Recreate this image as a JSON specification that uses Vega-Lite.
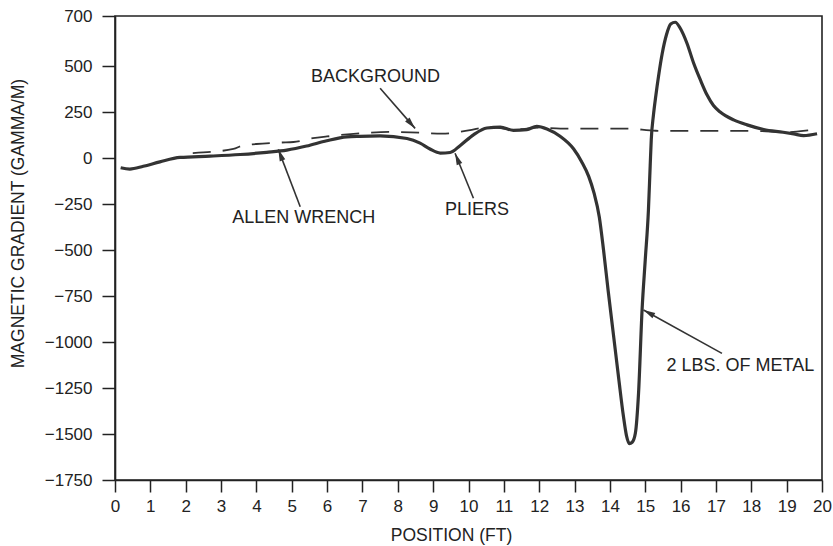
{
  "$schema": "https://vega.github.io/schema/vega-lite/v6.json",
  "autosize": "none",
  "width": 707,
  "height": 464,
  "padding": {"left": 115, "top": 16, "right": 11, "bottom": 66},
  "background": "white",
  "config": {
    "font": "Liberation Sans",
    "view": {"stroke": "#222", "strokeWidth": 1.6},
    "axis": {
      "domainColor": "#222", "domainWidth": 1.6, "tickColor": "#222", "tickWidth": 1.5,
      "labelColor": "#222", "titleColor": "#222", "labelFont": "Liberation Sans", "titleFont": "Liberation Sans",
      "labelFontSize": 17, "titleFontSize": 17.5, "titleFontWeight": "normal", "grid": false
    }
  },
  "datasets": {
    "curve": [
      {"x": 0.16, "y": -53}, {"x": 0.42, "y": -60}, {"x": 0.8, "y": -45}, {"x": 1.27, "y": -21}, {"x": 1.84, "y": 3},
      {"x": 2.69, "y": 10}, {"x": 3.54, "y": 19}, {"x": 4.29, "y": 31}, {"x": 4.86, "y": 43}, {"x": 5.42, "y": 65},
      {"x": 5.99, "y": 94}, {"x": 6.56, "y": 115}, {"x": 6.93, "y": 118}, {"x": 7.5, "y": 120}, {"x": 8.26, "y": 106},
      {"x": 8.63, "y": 81}, {"x": 8.91, "y": 49}, {"x": 9.2, "y": 27}, {"x": 9.48, "y": 30}, {"x": 9.76, "y": 67},
      {"x": 10.14, "y": 126}, {"x": 10.52, "y": 163}, {"x": 10.9, "y": 168}, {"x": 11.27, "y": 150}, {"x": 11.65, "y": 154},
      {"x": 11.93, "y": 172}, {"x": 12.22, "y": 158}, {"x": 12.59, "y": 118}, {"x": 12.97, "y": 50}, {"x": 13.2, "y": -20},
      {"x": 13.4, "y": -100}, {"x": 13.55, "y": -190}, {"x": 13.7, "y": -320}, {"x": 13.82, "y": -500}, {"x": 13.95, "y": -720},
      {"x": 14.1, "y": -960}, {"x": 14.25, "y": -1200}, {"x": 14.38, "y": -1400}, {"x": 14.47, "y": -1510}, {"x": 14.55, "y": -1552},
      {"x": 14.63, "y": -1545}, {"x": 14.72, "y": -1496}, {"x": 14.81, "y": -1279}, {"x": 14.91, "y": -826}, {"x": 15.0, "y": -554},
      {"x": 15.09, "y": -283}, {"x": 15.14, "y": -40}, {"x": 15.17, "y": 100}, {"x": 15.23, "y": 230}, {"x": 15.3, "y": 340},
      {"x": 15.38, "y": 450}, {"x": 15.48, "y": 550}, {"x": 15.6, "y": 625}, {"x": 15.72, "y": 668},
      {"x": 15.85, "y": 675}, {"x": 15.99, "y": 651}, {"x": 16.18, "y": 591}, {"x": 16.37, "y": 511}, {"x": 16.56, "y": 424},
      {"x": 16.75, "y": 342}, {"x": 16.93, "y": 285}, {"x": 17.12, "y": 250}, {"x": 17.5, "y": 207}, {"x": 17.88, "y": 180},
      {"x": 18.35, "y": 155}, {"x": 18.9, "y": 140}, {"x": 19.2, "y": 131}, {"x": 19.48, "y": 122}, {"x": 19.86, "y": 132}
    ],
    "background": [
      {"x": 2.2, "y": 27}, {"x": 3.35, "y": 49}, {"x": 3.6, "y": 67}, {"x": 4.0, "y": 76}, {"x": 4.7, "y": 84},
      {"x": 5.05, "y": 87}, {"x": 5.6, "y": 108}, {"x": 6.0, "y": 117}, {"x": 7.0, "y": 135}, {"x": 7.75, "y": 142},
      {"x": 8.6, "y": 138}, {"x": 9.25, "y": 132}, {"x": 10.0, "y": 150}, {"x": 10.6, "y": 168}, {"x": 11.3, "y": 155},
      {"x": 12.0, "y": 165}, {"x": 12.6, "y": 160}, {"x": 14.5, "y": 160}, {"x": 15.3, "y": 148}, {"x": 16.8, "y": 147},
      {"x": 18.1, "y": 147}, {"x": 19.0, "y": 140}, {"x": 19.6, "y": 150}, {"x": 19.9, "y": 158}
    ],
    "labels": [
      {"x": 7.37, "y": 442, "text": "BACKGROUND"},
      {"x": 5.34, "y": -328, "text": "ALLEN WRENCH"},
      {"x": 10.24, "y": -283, "text": "PLIERS"},
      {"x": 17.69, "y": -1129, "text": "2 LBS. OF METAL"}
    ],
    "arrows": [
      {"name": "background", "x": 7.5, "y": 379, "x2": 8.49, "y2": 161},
      {"name": "allen", "x": 5.24, "y": -265, "x2": 4.62, "y2": 47},
      {"name": "pliers", "x": 10.14, "y": -219, "x2": 9.62, "y2": 26},
      {"name": "metal", "x": 17.17, "y": -1062, "x2": 14.95, "y2": -826}
    ]
  },
  "encoding": {
    "x": {
      "field": "x", "type": "quantitative", "title": "POSITION (FT)",
      "scale": {"domain": [0, 20], "nice": false, "zero": false},
      "axis": {"values": [0,1,2,3,4,5,6,7,8,9,10,11,12,13,14,15,16,17,18,19,20], "tickSize": 12, "labelPadding": 6,
               "titleX": 336, "titleY": 55, "titleBaseline": "middle", "labelFlush": false, "format": "d"}
    },
    "y": {
      "field": "y", "type": "quantitative", "title": "MAGNETIC GRADIENT (GAMMA/M)",
      "scale": {"domain": [-1750, 500, 700], "range": [464, 50, 0], "nice": false, "zero": false},
      "axis": {"values": [700, 500, 250, 0, -250, -500, -750, -1000, -1250, -1500, -1750], "tickSize": 13, "labelPadding": 10,
               "titleX": -97, "titleY": 207, "titleBaseline": "middle", "labelFlush": false, "format": "d"}
    }
  },
  "layer": [
    {"data": {"name": "background"}, "mark": {"type": "line", "interpolate": "monotone", "color": "#333", "strokeWidth": 1.8, "strokeDash": [18, 12]}},
    {"data": {"name": "curve"}, "mark": {"type": "line", "interpolate": "monotone", "color": "#333", "strokeWidth": 3.2}},
    {"data": {"name": "arrows"}, "mark": {"type": "rule", "color": "#333", "strokeWidth": 1.6},
     "encoding": {"x2": {"field": "x2"}, "y2": {"field": "y2"}}},
    {"data": {"name": "arrows"}, "transform": [{"filter": "datum.name === 'background'"}],
     "mark": {"type": "point", "shape": "M0,0L-0.25,1L0.25,1Z", "filled": true, "color": "#333", "opacity": 1, "size": 560, "angle": 138.8},
     "encoding": {"x": {"field": "x2", "type": "quantitative"}, "y": {"field": "y2", "type": "quantitative"}}},
    {"data": {"name": "arrows"}, "transform": [{"filter": "datum.name === 'allen'"}],
     "mark": {"type": "point", "shape": "M0,0L-0.25,1L0.25,1Z", "filled": true, "color": "#333", "opacity": 1, "size": 560, "angle": 339.3},
     "encoding": {"x": {"field": "x2", "type": "quantitative"}, "y": {"field": "y2", "type": "quantitative"}}},
    {"data": {"name": "arrows"}, "transform": [{"filter": "datum.name === 'pliers'"}],
     "mark": {"type": "point", "shape": "M0,0L-0.25,1L0.25,1Z", "filled": true, "color": "#333", "opacity": 1, "size": 560, "angle": 338.1},
     "encoding": {"x": {"field": "x2", "type": "quantitative"}, "y": {"field": "y2", "type": "quantitative"}}},
    {"data": {"name": "arrows"}, "transform": [{"filter": "datum.name === 'metal'"}],
     "mark": {"type": "point", "shape": "M0,0L-0.25,1L0.25,1Z", "filled": true, "color": "#333", "opacity": 1, "size": 560, "angle": 298.9},
     "encoding": {"x": {"field": "x2", "type": "quantitative"}, "y": {"field": "y2", "type": "quantitative"}}},
    {"data": {"name": "labels"}, "mark": {"type": "text", "fontSize": 18, "color": "#222", "align": "center", "baseline": "middle", "font": "Liberation Sans"},
     "encoding": {"text": {"field": "text"}}}
  ]
}
